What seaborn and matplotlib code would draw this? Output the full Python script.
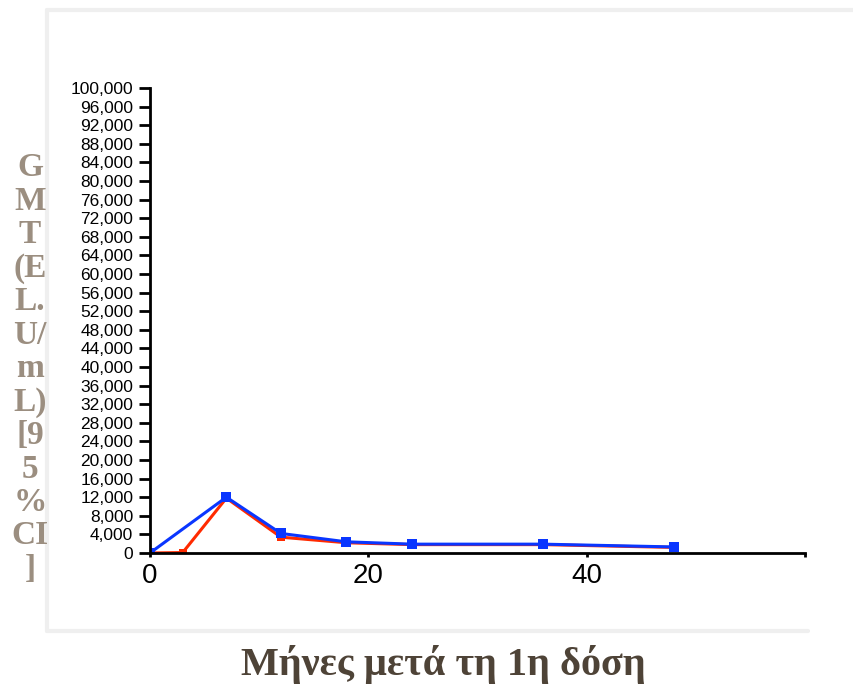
import pandas as pd
import numpy as np
import matplotlib
matplotlib.use('Agg')
import matplotlib.pyplot as plt
import matplotlib.ticker as mticker
from matplotlib.lines import Line2D
import seaborn as sns

# 數據 (從圖上估計)
months_red = [0, 3, 7, 12, 18, 24, 36, 48]
gmt_red = [0, 100, 11800, 3400, 2200, 1800, 1800, 1200]
months_blue = [0, 7, 12, 18, 24, 36, 48]
gmt_blue = [0, 12000, 4200, 2400, 1900, 1900, 1300]

y_ticks = list(range(0, 100001, 4000))
x_ticks = [0, 20, 40, 60]
x_tick_labels = ['0', '20', '40', '']

y_label_lines = ['G', 'M', 'T', '(E', 'L.', 'U/', 'm', 'L)', '[9', '5', '%', 'CI', ']']
x_label = 'Μήνες μετά τη 1η δόση'

df_red = pd.DataFrame({'month': months_red, 'gmt': gmt_red})
df_blue = pd.DataFrame({'month': months_blue, 'gmt': gmt_blue})

sns.set_style('ticks')
plt.rcParams['font.family'] = ['Liberation Sans', 'DejaVu Sans']

fig = plt.figure(figsize=(8.54, 6.89), dpi=100)
ax = fig.add_axes([0.1756, 0.1974, 0.767, 0.675])

sns.lineplot(data=df_red, x='month', y='gmt', color='#ff2a00', linewidth=2.2,
             marker='s', markersize=6, markeredgewidth=0, ax=ax)
sns.lineplot(data=df_blue, x='month', y='gmt', color='#0a36ff', linewidth=2.2,
             marker='s', markersize=7, markeredgewidth=0, ax=ax)

ax.set_xlim(0, 60)
ax.set_ylim(0, 100000)
ax.set_yticks(y_ticks)
ax.yaxis.set_major_formatter(mticker.StrMethodFormatter('{x:,.0f}'))
ax.set_xticks(x_ticks)
ax.set_xticklabels(x_tick_labels)
ax.tick_params(axis='y', labelsize=12.5, length=8, width=2, direction='out', pad=4,
               color='black', labelcolor='black')
ax.tick_params(axis='x', labelsize=20, length=3, width=2, direction='out', pad=4,
               color='black', labelcolor='black')
ax.set_xlabel('')
ax.set_ylabel('')
sns.despine(ax=ax)
for side in ['left', 'bottom']:
    ax.spines[side].set_linewidth(2)
    ax.spines[side].set_color('black')

# 背景的淺灰色框線
frame_kw = dict(color='#efefef', linewidth=3, transform=fig.transFigure)
fig.add_artist(Line2D([0.055, 0.055], [0.0842, 0.9855], **frame_kw))
fig.add_artist(Line2D([0.055, 1.0], [0.9855, 0.9855], **frame_kw))
fig.add_artist(Line2D([0.055, 0.946], [0.0842, 0.0842], **frame_kw))

fig.text(0.035, 0.465, '\n'.join(y_label_lines), ha='center', va='center',
         family=['Liberation Serif', 'DejaVu Serif'], weight='bold', size=24,
         color='#9b8e80', linespacing=1.1)
fig.text(0.519, 0.035, x_label, ha='center', va='center',
         family=['Liberation Serif', 'DejaVu Serif'], weight='bold', size=29,
         color='#4e4337')

plt.savefig('out.png', dpi=100)
plt.close()
